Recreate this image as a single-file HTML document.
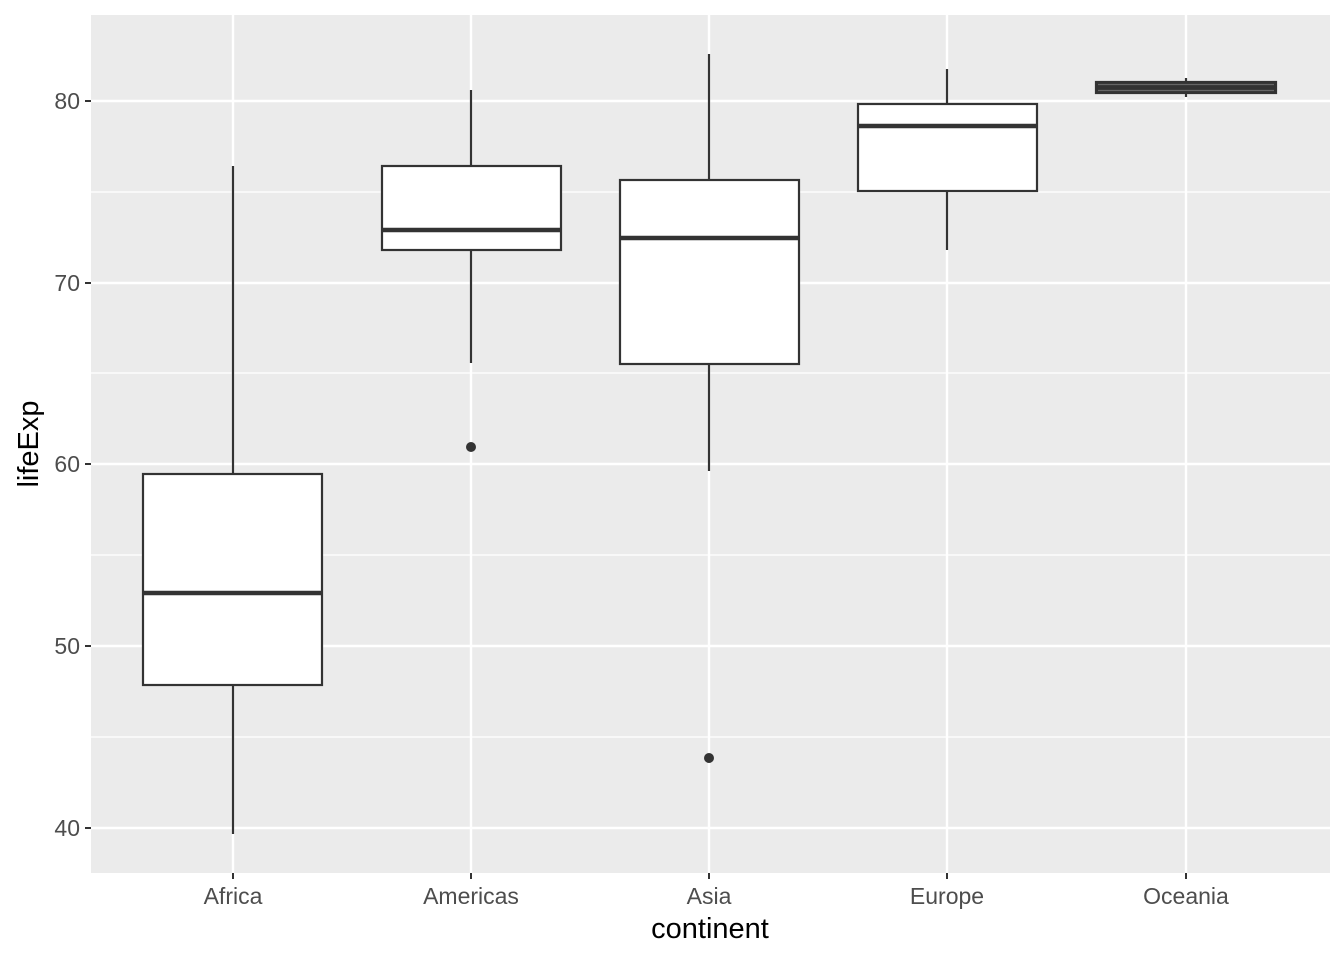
<!DOCTYPE html><html><head><style>body{margin:0;background:#fff}</style></head><body>
<svg width="1344" height="960" xmlns="http://www.w3.org/2000/svg" font-family="Liberation Sans, sans-serif">
<rect x="91" y="15" width="1239" height="858" fill="#ebebeb"/>
<g stroke="#fff" stroke-width="1.2">
<line x1="91" x2="1330" y1="737" y2="737"/><line x1="91" x2="1330" y1="555" y2="555"/><line x1="91" x2="1330" y1="373" y2="373"/><line x1="91" x2="1330" y1="192" y2="192"/>
</g>
<g stroke="#fff" stroke-width="2.4">
<line x1="91" x2="1330" y1="828" y2="828"/><line x1="91" x2="1330" y1="646" y2="646"/><line x1="91" x2="1330" y1="464" y2="464"/><line x1="91" x2="1330" y1="283" y2="283"/><line x1="91" x2="1330" y1="101" y2="101"/>
<line y1="15" y2="873" x1="233" x2="233"/><line y1="15" y2="873" x1="471" x2="471"/><line y1="15" y2="873" x1="709" x2="709"/><line y1="15" y2="873" x1="947" x2="947"/><line y1="15" y2="873" x1="1186" x2="1186"/>
</g>
<g stroke="#333" stroke-width="2.2" fill="#fff">
<line x1="233" x2="233" y1="166" y2="834"/><rect x="143" y="474" width="179" height="211"/><line x1="143" x2="322" y1="593" y2="593" stroke-width="4.5"/>
<line x1="471" x2="471" y1="90" y2="363"/><rect x="382" y="166" width="179" height="84"/><line x1="382" x2="561" y1="230" y2="230" stroke-width="4.5"/>
<line x1="709" x2="709" y1="54" y2="471"/><rect x="620" y="180" width="179" height="184"/><line x1="620" x2="799" y1="238" y2="238" stroke-width="4.5"/>
<line x1="947" x2="947" y1="69" y2="250"/><rect x="858" y="104" width="179" height="87"/><line x1="858" x2="1037" y1="126" y2="126" stroke-width="4.5"/>
<line x1="1186" x2="1186" y1="78" y2="97"/><rect x="1096" y="82" width="180" height="11" fill="#333"/><line x1="1098" x2="1274" y1="84.5" y2="84.5" stroke="#666" stroke-width="1.2"/><line x1="1098" x2="1274" y1="90.5" y2="90.5" stroke="#666" stroke-width="1.2"/>
</g>
<circle cx="471" cy="447" r="5" fill="#333"/><circle cx="709" cy="758" r="5" fill="#333"/>
<g stroke="#333" stroke-width="2">
<line x1="85" x2="91" y1="828" y2="828"/><line x1="85" x2="91" y1="646" y2="646"/><line x1="85" x2="91" y1="464" y2="464"/><line x1="85" x2="91" y1="283" y2="283"/><line x1="85" x2="91" y1="101" y2="101"/>
<line y1="873" y2="879" x1="233" x2="233"/><line y1="873" y2="879" x1="471" x2="471"/><line y1="873" y2="879" x1="709" x2="709"/><line y1="873" y2="879" x1="947" x2="947"/><line y1="873" y2="879" x1="1186" x2="1186"/>
</g>
<g fill="#4d4d4d" font-size="23" text-anchor="end">
<text x="80" y="836">40</text><text x="80" y="654">50</text><text x="80" y="472">60</text><text x="80" y="291">70</text><text x="80" y="109">80</text>
</g>
<g fill="#4d4d4d" font-size="23" text-anchor="middle">
<text x="233" y="904">Africa</text><text x="471" y="904">Americas</text><text x="709" y="904">Asia</text><text x="947" y="904">Europe</text><text x="1186" y="904">Oceania</text>
</g>
<text x="710" y="938" font-size="29" text-anchor="middle" fill="#000">continent</text>
<text transform="translate(38,444) rotate(-90)" font-size="29" text-anchor="middle" fill="#000">lifeExp</text>
</svg></body></html>
